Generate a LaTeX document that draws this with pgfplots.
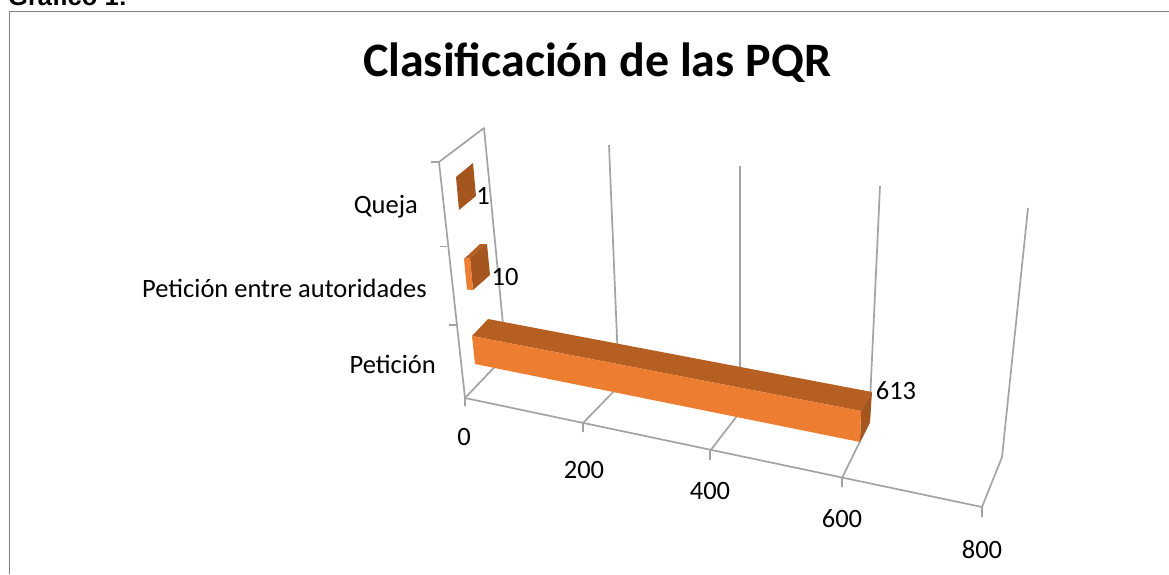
\documentclass[border=0pt]{standalone}
\usepackage{fontspec}
\setmainfont{Carlito}
\newfontfamily\arialf{Liberation Sans}
\usepackage{pgfplots}
\pgfplotsset{compat=1.18}
\definecolor{grid}{HTML}{A3A3A3}
\definecolor{front}{HTML}{ED7D31}
\definecolor{topf}{HTML}{B56022}
\definecolor{sidef}{HTML}{A5561F}
\tikzset{
  gl/.style={draw=grid,line width=1.7pt,no markers},
  bar/.style={fill=#1,draw=none,no markers},
  lab/.style={font=\fontsize{26.5}{30}\selectfont,text=black,inner sep=0pt},
}
\begin{document}
\begin{tikzpicture}[x=1pt,y=1pt]
\useasboundingbox (0,0) rectangle (1169,574);
\clip (0,0) rectangle (1169,574);
\begin{axis}[
  at={(0,0)},anchor=south west,scale only axis,
  width=1169pt,height=574pt,
  xmin=0,xmax=1169,ymin=0,ymax=574,y dir=reverse,
  hide axis,clip=false,
  every axis plot/.append style={line join=round},
]
% chart frame
\addplot[draw=black!50,line width=1.1pt,no markers] coordinates {(9.5,574)(9.5,11.5)(1169,11.5)};
% back wall and floor
\addplot[gl] coordinates {(431,162)(439,162)(484,128)(505,345)};
\addplot[gl] coordinates {(439,162)(465,398)};
\addplot[gl] coordinates {(440,246.5)(447,246.5)};
\addplot[gl] coordinates {(449,325)(456,325)};
\addplot[gl] coordinates {(465,406)(465,398)(982,507)(982,517)};
\addplot[gl] coordinates {(465,398)(505,356)};
% gridlines: 200, 400, 600, 800
\addplot[gl] coordinates {(583,432)(583,423)(619,386)(609,145)};
\addplot[gl] coordinates {(710,460)(710,451)(740,412)(740,166)};
\addplot[gl] coordinates {(842,487)(842,478)(869,423)(880,186)};
\addplot[gl] coordinates {(982,507)(1002,457)(1028,208)};
% Petición = 613
\addplot[bar=topf] coordinates {(472,336)(488,319)(872,392)(861,411)} --cycle;
\addplot[bar=sidef] coordinates {(861,411)(872,392)(870,422)(860,442)} --cycle;
\addplot[bar=front] coordinates {(472,336)(861,411)(860,442)(475,364)} --cycle;
% Petición entre autoridades = 10
\addplot[bar=topf] coordinates {(464,259)(480,244)(487,244)(470,258)} --cycle;
\addplot[bar=sidef] coordinates {(470,258)(487,244)(490,275)(473,290)} --cycle;
\addplot[bar=front] coordinates {(464,259)(470,258)(473,290)(467,289.5)} --cycle;
% Queja = 1
\addplot[bar=sidef] coordinates {(456,177)(473,163)(476,196)(459,210)} --cycle;
% texts
\node[anchor=center,inner sep=0pt,font=\fontsize{48}{56}\selectfont\bfseries] at (axis cs:597,63) {Clasificación de las PQR};
\node[anchor=base west,inner sep=0pt,font=\fontsize{25.5}{30}\selectfont\bfseries\arialf] at (axis cs:8,5) {Gráfico 1:};
\node[lab,anchor=east] at (axis cs:418,207) {Queja};
\node[lab,anchor=east] at (axis cs:427,288) {Petición entre autoridades};
\node[lab,anchor=east] at (axis cs:436,364) {Petición};
\node[lab] at (axis cs:483,196) {1};
\node[lab] at (axis cs:505,277) {10};
\node[lab] at (axis cs:896,391) {613};
\node[lab] at (axis cs:464,437) {0};
\node[lab] at (axis cs:584,470) {200};
\node[lab] at (axis cs:710,491) {400};
\node[lab] at (axis cs:842,519) {600};
\node[lab] at (axis cs:982,550) {800};
\end{axis}
\end{tikzpicture}
\end{document}
